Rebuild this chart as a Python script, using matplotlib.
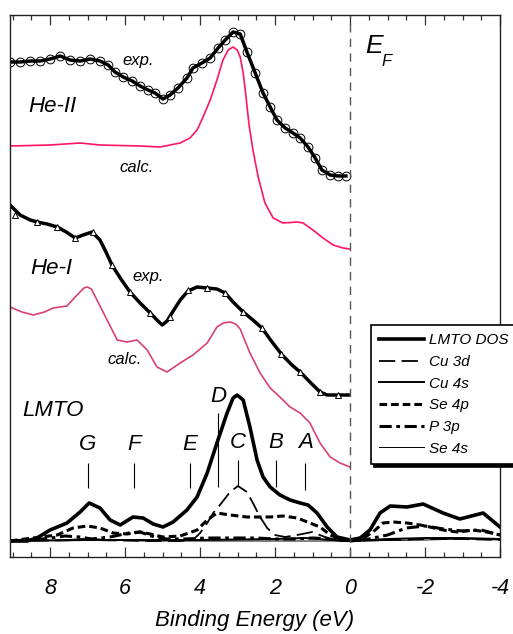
import matplotlib
matplotlib.use("Agg")
import matplotlib.pyplot as plt
from matplotlib.ticker import MultipleLocator

plt.rcParams['font.family'] = ['Liberation Sans', 'DejaVu Sans']
plt.rcParams['font.style'] = 'italic'
plt.rcParams['axes.unicode_minus'] = False

# He-II experiment (open circles on a thick line)
he2_exp_ev = [9.07, 8.80, 8.53, 8.27, 8.00, 7.73, 7.47, 7.20, 6.93, 6.67,
              6.45, 6.27, 6.05, 5.81, 5.60, 5.39, 5.20, 4.99, 4.80, 4.59,
              4.35, 4.19, 3.95, 3.73, 3.52, 3.33, 3.12, 2.93, 2.75, 2.53,
              2.32, 2.13, 1.95, 1.73, 1.52, 1.33, 1.12, 0.93, 0.75, 0.53,
              0.32, 0.11]
he2_exp_y = [479, 479, 480, 480, 482, 485, 481, 480, 482, 480,
             476, 469, 464, 460, 455, 451, 448, 442, 446, 453,
             463, 473, 478, 483, 493, 501, 509, 507, 489, 468,
             448, 434, 421, 413, 408, 403, 394, 383, 371, 366,
             365, 365]

# He-II calculation
he2_calc_ev = [9.07, 8.00, 7.20, 6.67, 5.60, 5.07, 4.53, 4.27, 4.08, 3.92,
               3.73, 3.55, 3.39, 3.25, 3.12, 3.01, 2.93, 2.85, 2.78, 2.70,
               2.59, 2.45, 2.27, 2.05, 1.79, 1.41, 1.25, 0.99, 0.72, 0.45,
               0.19, 0.00]
he2_calc_y = [395, 396, 398, 396, 395, 394, 398, 403, 411, 424,
              441, 461, 481, 491, 494, 491, 484, 468, 446, 418,
              391, 364, 338, 323, 318, 319, 318, 311, 303, 296,
              293, 292]

# He-I experiment
he1_exp_ev = [9.07, 8.80, 8.53, 8.35, 8.08, 7.81, 7.57, 7.33, 7.12, 6.88,
              6.67, 6.51, 6.35, 6.13, 5.87, 5.60, 5.33, 5.15, 5.01, 4.88,
              4.75, 4.53, 4.32, 4.08, 3.81, 3.55, 3.33, 3.12, 2.85, 2.59,
              2.35, 2.08, 1.81, 1.55, 1.33, 1.07, 0.80, 0.61, 0.32, 0.05]
he1_exp_y = [336, 326, 321, 319, 317, 314, 309, 303, 306, 309,
             301, 289, 276, 263, 249, 238, 228, 221, 216, 220,
             228, 241, 250, 254, 253, 252, 248, 239, 229, 221,
             213, 199, 186, 176, 169, 159, 149, 146, 146, 146]
he1_tri_ev = [8.93, 8.35, 7.81, 7.33, 6.85, 6.35, 5.87, 5.33, 4.80, 4.32,
              3.81, 3.33, 2.85, 2.35, 1.84, 1.33, 0.80, 0.32]
he1_tri_y = [326, 319, 314, 303, 309, 276, 249, 228, 224, 251,
             253, 248, 229, 213, 187, 169, 149, 146]

# He-I calculation
he1_calc_ev = [9.07, 8.75, 8.45, 8.15, 7.92, 7.55, 7.28, 7.10, 7.01, 6.90,
               6.75, 6.48, 6.21, 5.95, 5.68, 5.41, 5.15, 4.88, 4.53, 4.19,
               3.81, 3.55, 3.38, 3.20, 3.05, 2.93, 2.67, 2.40, 2.13, 1.87,
               1.60, 1.33, 1.07, 0.80, 0.53, 0.27, 0.00]
he1_calc_y = [234, 229, 226, 229, 233, 235, 246, 253, 254, 252,
              241, 221, 201, 199, 201, 191, 174, 169, 178, 186,
              198, 214, 218, 219, 217, 212, 188, 168, 153, 144,
              134, 128, 118, 98, 84, 78, 74]

# LMTO total DOS and partial DOS
dos_ev = [9.07, 8.61, 8.35, 8.00, 7.55, 7.20, 6.96, 6.67, 6.40, 6.13,
          5.79, 5.52, 5.25, 4.99, 4.72, 4.35, 4.08, 3.81, 3.55, 3.28,
          3.12, 3.01, 2.85, 2.67, 2.48, 2.32, 2.13, 1.87, 1.60, 1.33,
          1.12, 0.88, 0.61, 0.35, 0.00, -0.27, -0.53, -0.80, -1.07, -1.52,
          -1.95, -2.48, -2.93, -3.55, -4.00]
dos_y = [0, 0, 3, 11, 18, 29, 38, 33, 21, 16,
         24, 23, 17, 14, 19, 31, 44, 68, 98, 128,
         143, 146, 141, 114, 81, 64, 54, 46, 41, 38,
         36, 28, 14, 4, 1, 3, 11, 28, 35, 34,
         37, 28, 22, 28, 14]

cu3d_ev = [9.07, 7.00, 5.33, 4.53, 4.19, 4.00, 3.81, 3.65, 3.47, 3.20,
           2.99, 2.75, 2.59, 2.40, 2.21, 2.00, 1.73, 1.41, 1.01, 0.67,
           0.27, 0.00, -1.00, -2.00, -3.00, -4.00]
cu3d_y = [0, 1, 0, 0, 1, 8, 18, 28, 36, 49,
          55, 49, 38, 24, 13, 6, 4, 6, 9, 4,
          0, 0, 1, 2, 2, 1]

cu4s_ev = [9.07, 7.00, 4.00, 2.00, 1.20, 0.50, 0.00, -1.00, -2.00, -3.00, -4.00]
cu4s_y = [0, 1, 1, 2, 3, 1, 0, 2, 3, 3, 2]

se4p_ev = [9.07, 8.88, 7.81, 7.39, 7.01, 6.67, 6.32, 5.95, 5.60, 5.33,
           4.99, 4.53, 4.08, 3.81, 3.55, 3.20, 2.75, 2.48, 2.13, 1.79,
           1.41, 1.07, 0.80, 0.53, 0.27, 0.00, -0.27, -0.61, -0.88, -1.15,
           -1.52, -1.87, -2.13, -2.48, -2.85, -3.28, -3.65, -4.00]
se4p_y = [0, 1, 6, 13, 15, 13, 8, 7, 9, 7,
          4, 5, 11, 21, 28, 26, 24, 24, 24, 25,
          23, 18, 14, 6, 2, 0, 1, 9, 18, 19,
          18, 16, 14, 11, 9, 11, 9, 6]

p3p_ev = [9.07, 8.40, 8.00, 7.60, 7.20, 6.90, 6.40, 5.90, 5.60, 5.30,
          4.90, 4.40, 3.80, 3.00, 2.50, 2.00, 1.50, 1.00, 0.50, 0.00,
          -0.50, -1.00, -1.50, -2.00, -2.50, -3.00, -3.50, -4.00]
p3p_y = [0, 1, 3, 5, 4, 2, 4, 8, 9, 5,
         2, 2, 3, 3, 3, 2, 2, 3, 2, 0,
         2, 6, 13, 15, 12, 10, 11, 6]

se4s_ev = [9.07, 7.60, 7.00, 6.40, 5.50, 0.00, -2.00, -3.00, -4.00]
se4s_y = [0, 1, 3, 1, 0, 0, 1, 2, 1]

# feature markers
feat_names = ['G', 'F', 'E', 'D', 'C', 'B', 'A']
feat_ev = [6.99, 5.76, 4.27, 3.52, 2.99, 1.97, 1.20]
feat_lo = [53, 53, 53, 54, 56, 54, 51]
feat_hi = [78, 78, 78, 128, 81, 81, 78]
feat_text_y = [96, 96, 96, 144, 99, 99, 98]

xtick_vals = [8, 6, 4, 2, 0, -2, -4]
xtick_labels = ['8', '6', '4', '2', '0', '-2', '-4']

fig = plt.figure(figsize=(5.13, 6.34), dpi=100)
ax = fig.add_axes([10 / 513, 1 - 557 / 634, 490 / 513, 542 / 634])

# spectra
ax.plot(he2_calc_ev, he2_calc_y, color='#ff1466', lw=1.2)
ax.plot(he2_exp_ev, he2_exp_y, color='black', lw=2.5, marker='o', ms=6.3,
        mfc='none', mec='black', mew=0.7)
ax.plot(he1_calc_ev, he1_calc_y, color='#d8426f', lw=1.2)
ax.plot(he1_exp_ev, he1_exp_y, color='black', lw=2.5)
ax.plot(he1_tri_ev, he1_tri_y, ls='none', marker='^', ms=5, mfc='white',
        mec='black', mew=0.7)

# DOS
ax.plot(se4s_ev, se4s_y, color='black', lw=0.7, label='Se 4s')
ax.plot(cu4s_ev, cu4s_y, color='black', lw=1.4, label='Cu 4s')
ax.plot(p3p_ev, p3p_y, color='black', lw=2.2, dashes=(4, 1.5, 1.2, 1.5), label='P 3p')
ax.plot(se4p_ev, se4p_y, color='black', lw=2.2, dashes=(2.5, 1.3), label='Se 4p')
ax.plot(cu3d_ev, cu3d_y, color='black', lw=1.3, dashes=(9, 3.5), label='Cu 3d')
ax.plot(dos_ev, dos_y, color='black', lw=2.6, label='LMTO DOS')

# Fermi level
ax.axvline(0, color='#555555', lw=1.0, dashes=(6, 4.5))

# feature markers
ax.vlines(feat_ev, feat_lo, feat_hi, color='black', lw=0.8)
for name, xv, yv in zip(feat_names, feat_ev, feat_text_y):
    ax.text(xv, yv, name, fontsize=16, ha='center', va='center')

# labels
ax.text(5.65, 480, 'exp.', fontsize=12, ha='center', va='center')
ax.text(8.59, 434, 'He-II', fontsize=16, ha='left', va='center')
ax.text(5.68, 374, 'calc.', fontsize=12, ha='center', va='center')
ax.text(8.53, 273, 'He-I', fontsize=16, ha='left', va='center')
ax.text(5.39, 264, 'exp.', fontsize=12, ha='center', va='center')
ax.text(6.00, 181, 'calc.', fontsize=12, ha='center', va='center')
ax.text(8.75, 131, 'LMTO', fontsize=16, ha='left', va='center')
ax.text(-0.40, 495, 'E', fontsize=19, ha='left', va='center')
ax.text(-0.83, 479, 'F', fontsize=12, ha='left', va='center')

ax.set_xlim(9.07, -4)
ax.set_ylim(-16, 526)
ax.set_yticks([])
ax.set_xticks(xtick_vals)
ax.set_xticklabels(xtick_labels, fontsize=15.5)
ax.xaxis.set_minor_locator(MultipleLocator(0.5))
ax.tick_params(axis='x', which='both', direction='in', top=True, bottom=True,
               color='#333333', width=0.9)
ax.tick_params(axis='x', which='major', length=7, pad=15)
ax.tick_params(axis='x', which='minor', length=3.5)
for sp in ax.spines.values():
    sp.set_color('#222222')
    sp.set_linewidth(1.0)
ax.set_xlabel('Binding Energy (eV)', fontsize=16, labelpad=8)

handles, labels = ax.get_legend_handles_labels()
order = ['LMTO DOS', 'Cu 3d', 'Cu 4s', 'Se 4p', 'P 3p', 'Se 4s']
hmap = dict(zip(labels, handles))
leg = ax.legend([hmap[k] for k in order], order, loc='upper left',
                bbox_to_anchor=(371 / 513, 1 - 325 / 634),
                bbox_transform=fig.transFigure, fontsize=11, frameon=True,
                fancybox=False, shadow={'color': 'black', 'alpha': 1},
                borderaxespad=0, handlelength=2.9, handletextpad=0.35,
                labelspacing=0.5, borderpad=0.55)
leg.get_frame().set_edgecolor('black')
leg.get_frame().set_linewidth(1.2)

fig.savefig('out.png', dpi=100)
